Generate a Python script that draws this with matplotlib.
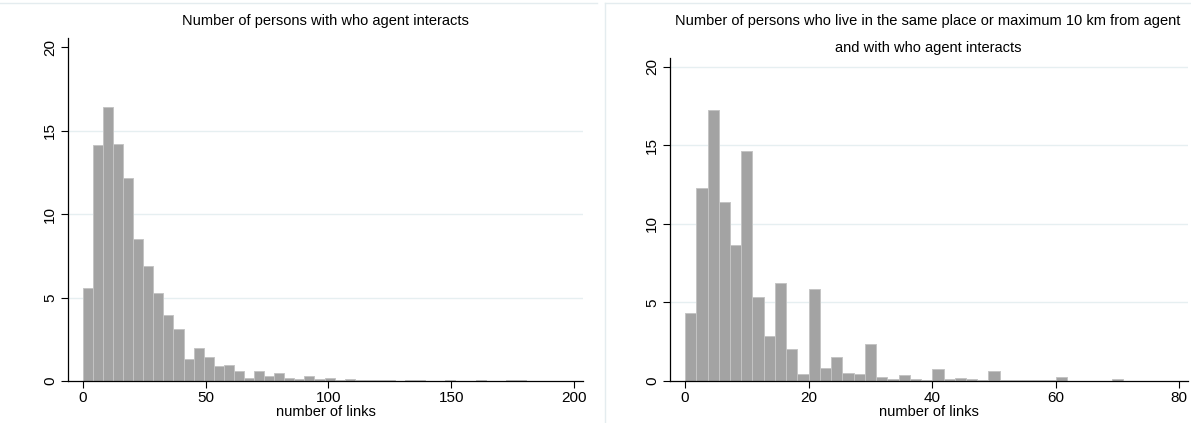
import matplotlib
matplotlib.use("Agg")
import matplotlib.pyplot as plt
from matplotlib.lines import Line2D
import numpy as np

plt.rcParams['font.family'] = ['Liberation Sans', 'DejaVu Sans']

# ----------------------- data (percent of agents per bin)
all_width = 4.1
all_pct = [5.56, 14.12, 16.42, 14.18, 12.16, 8.52, 6.9, 5.26, 3.94, 3.1,
           1.32, 1.98, 1.46, 0.88, 0.96, 0.62, 0.18, 0.6, 0.32, 0.46,
           0.16, 0.1, 0.3, 0.1, 0.18, 0.08, 0.12,
           0.03, 0.05, 0.05, 0.03, 0.02, 0.03, 0.03, 0.02, 0.02, 0.03,
           0.02, 0.02, 0.04, 0.02, 0.02, 0.04, 0.04]

near_width = 1.82
near_pct = [4.35, 12.25, 17.23, 11.4, 8.67, 14.65, 5.37, 2.85, 6.24, 2.04,
            0.43, 5.88, 0.81, 1.55, 0.49, 0.43, 2.36, 0.26, 0.13, 0.36,
            0.1, 0.06, 0.79, 0.1, 0.19, 0.1, 0.04, 0.62,
            0.04, 0.08, 0.04, 0.04, 0.05, 0.28, 0.03, 0.03, 0.03, 0.03,
            0.1, 0.03, 0.03, 0.03, 0.03, 0.03]

all_xticks = [0, 50, 100, 150, 200]
near_xticks = [0, 20, 40, 60, 80]
yticks = [0, 5, 10, 15, 20]

title_all = 'Number of persons with who agent interacts'
title_near1 = 'Number of persons who live in the same place or maximum 10 km from agent'
title_near2 = 'and with who agent interacts'

fig = plt.figure(figsize=(11.91, 4.23), dpi=100)

ax1 = fig.add_axes([68.3/1191, 1-381/423, (582.7-68.3)/1191, (381-38.3)/423])
ax2 = fig.add_axes([670.3/1191, 1-381/423, (1188-670.3)/1191, (381-58.3)/423])


def draw(ax, pct, width, xticks, xlim, ylim, grid):
    edges = np.arange(len(pct)) * width
    ax.bar(edges, pct, width=width, align='edge', color='#a3a3a3',
           edgecolor='#c4c4c4', linewidth=0.7, zorder=2)
    for g in grid:
        ax.axhline(g, color='#e6eff1', lw=1.0, zorder=1)
    ax.set_xlim(xlim)
    ax.set_ylim(ylim)
    ax.set_xticks(xticks)
    ax.set_yticks(yticks)
    ax.set_yticklabels([str(v) for v in yticks], rotation=90, va='center')
    ax.tick_params(labelsize=11, length=5, width=0.8, color='black', pad=2)
    ax.tick_params(axis='y', pad=3)
    for s in ['top', 'right']:
        ax.spines[s].set_visible(False)
    for s in ['left', 'bottom']:
        ax.spines[s].set_linewidth(0.9)
    ax.set_xlabel('number of links', fontsize=10.5, labelpad=0)


draw(ax1, all_pct, all_width, all_xticks, (-5.9, 203.5), (0, 20.54), [5, 10, 15])
draw(ax2, near_pct, near_width, near_xticks, (-2.39, 81.45), (0, 20.53), [5, 10, 15, 20])

fig.text(325/1191, 1-21/423, title_all, ha='center', va='center', fontsize=10.5)
fig.text(928/1191, 1-21/423, title_near1, ha='center', va='center', fontsize=10.5)
fig.text(928/1191, 1-48/423, title_near2, ha='center', va='center', fontsize=10.5)

# light frames of the two graph regions
fc = '#e4ecef'
fig.add_artist(Line2D([0, 597/1191], [1-3/423, 1-3/423], color=fc, lw=1))
fig.add_artist(Line2D([605/1191, 1], [1-3/423, 1-3/423], color=fc, lw=1))
fig.add_artist(Line2D([605/1191, 605/1191], [0, 1-3/423], color=fc, lw=1))

fig.savefig('out.png', dpi=100)
